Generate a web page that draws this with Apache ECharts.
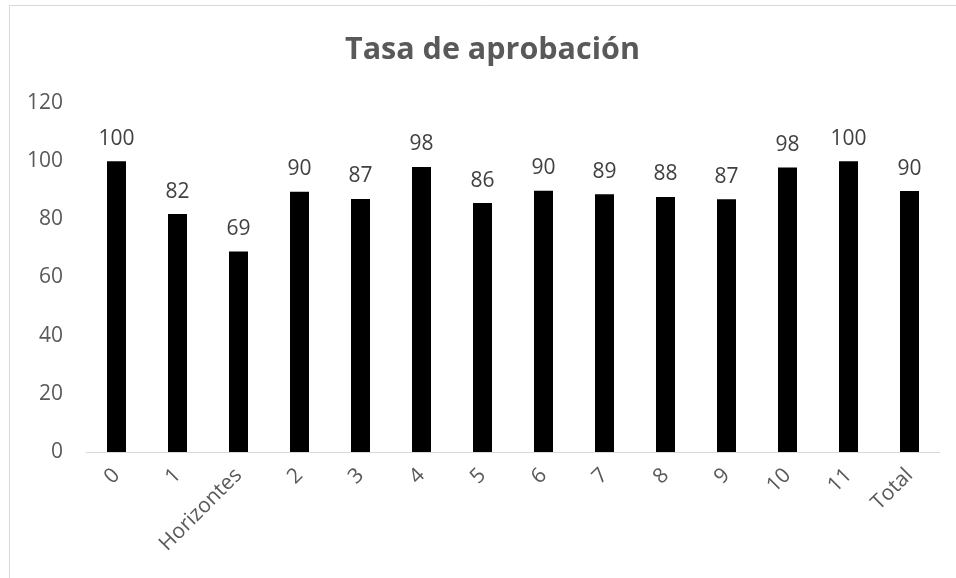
<!DOCTYPE html>
<html>
<head>
<meta charset="utf-8">
<script src="https://cdn.jsdelivr.net/npm/echarts@6/dist/echarts.min.js"></script>
<style>
  html, body { margin: 0; padding: 0; background: #fff; }
  #chart { width: 956px; height: 578px; }
</style>
</head>
<body>
<div id="chart"></div>
<script>
// categorias y valores
var categorias = ['0', '1', 'Horizontes', '2', '3', '4', '5', '6', '7', '8', '9', '10', '11', 'Total'];
var tasa = [100, 81.8, 68.9, 89.5, 87.0, 98.0, 85.6, 89.8, 88.6, 87.7, 86.9, 97.8, 100, 89.7];
var ticksY = [0, 20, 40, 60, 80, 100, 120];

var fuente = '"Open Sans", sans-serif';

var myChart = echarts.init(document.getElementById('chart'));

var option = {
    backgroundColor: '#fff',
    animation: false,
    title: {
        text: 'Tasa de aprobación',
        left: 340,
        top: 30,
        textStyle: {
            fontFamily: fuente,
            fontSize: 30.5,
            fontWeight: 'bold',
            color: '#595959'
        }
    },
    graphic: [{
        type: 'rect',
        shape: { x: 9.5, y: 5.5, width: 980, height: 620 },
        style: { fill: 'none', stroke: '#d9d9d9', lineWidth: 1 },
        silent: true
    }],
    grid: {
        left: 86,
        right: 16,
        top: 103,
        bottom: 126
    },
    xAxis: {
        type: 'category',
        data: categorias,
        axisLine: { lineStyle: { color: '#d9d9d9', width: 1 } },
        axisTick: { show: false },
        axisLabel: {
            rotate: 45,
            interval: 0,
            margin: 20,
            fontFamily: fuente,
            fontSize: 21,
            color: '#595959'
        }
    },
    yAxis: {
        type: 'value',
        min: ticksY[0],
        max: ticksY[ticksY.length - 1],
        interval: 20,
        axisLine: { show: false },
        axisTick: { show: false },
        splitLine: { show: false },
        axisLabel: {
            margin: 23,
            fontFamily: fuente,
            fontSize: 21,
            color: '#595959'
        }
    },
    series: [{
        type: 'bar',
        data: tasa,
        barWidth: 19,
        itemStyle: { color: '#000' },
        label: {
            show: true,
            position: 'top',
            distance: 12,
            fontFamily: fuente,
            fontSize: 21,
            color: '#404040',
            formatter: function (p) { return Math.round(p.value); }
        }
    }]
};

myChart.setOption(option);
</script>
</body>
</html>
